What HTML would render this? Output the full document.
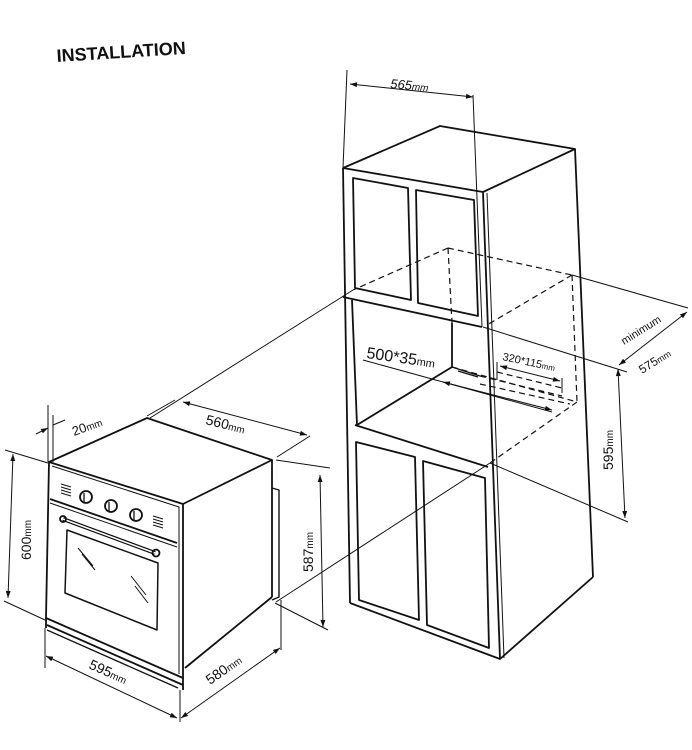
<!DOCTYPE html>
<html><head><meta charset="utf-8"><style>
html,body{margin:0;padding:0;background:#fff;width:692px;height:750px;overflow:hidden}
svg text{font-family:"Liberation Sans",sans-serif;fill:#111}
</style></head><body>
<svg width="692" height="750" viewBox="0 0 692 750" xmlns="http://www.w3.org/2000/svg">
<defs>
<marker id="a" viewBox="0 0 10 10" refX="10" refY="5" markerWidth="9" markerHeight="7" orient="auto-start-reverse" markerUnits="userSpaceOnUse"><path d="M0,1.5 L10,5 L0,8.5 z" fill="#111"/></marker>
</defs>
<text x="57" y="62" font-size="18" font-weight="bold" transform="rotate(-3.6 57 62)">INSTALLATION</text>

<g fill="none" stroke="#111" stroke-width="1.8" stroke-linejoin="round">
<polyline points="343,168 440,126 575,149 483,192 343,168"/>
<line x1="343" y1="168" x2="350" y2="603"/>
<line x1="483" y1="192" x2="500" y2="659"/>
<line x1="487" y1="193" x2="504" y2="658" stroke-width="1"/>
<line x1="575" y1="149" x2="593" y2="577"/>
<polyline points="350,603 500,659 593,577"/>
<polygon points="353,178 408,188 411,300 355,288"/>
<polygon points="416,190 474,200 478,316 418,303"/>
<line x1="343" y1="297" x2="482" y2="327"/>
<line x1="352" y1="300" x2="357" y2="425"/>
<line x1="355" y1="425" x2="488" y2="467"/>
<line x1="452" y1="323" x2="452" y2="367"/>
<line x1="357" y1="425" x2="452" y2="367"/>
<polyline points="452,367 458,369 480,376" stroke-width="1.2"/>
<line x1="458" y1="371" x2="478" y2="377" stroke-width="1.2"/>
<polygon points="356,442 415,457 419,620 359,600"/>
<polygon points="423,461 485,478 489,648 427,625"/>
</g>
<g fill="none" stroke="#111" stroke-width="1.2" stroke-dasharray="6,4">
<line x1="448" y1="248" x2="353" y2="290"/>
<line x1="448" y1="248" x2="572" y2="275"/>
<line x1="448" y1="248" x2="452" y2="323"/>
<line x1="572" y1="275" x2="487" y2="325"/>
<line x1="572" y1="275" x2="577" y2="402"/>
<line x1="577" y1="402" x2="490" y2="463"/>
<line x1="452" y1="367" x2="577" y2="402"/>
<line x1="480" y1="376" x2="562" y2="396"/>
<line x1="480" y1="384" x2="570" y2="404"/>
<line x1="497" y1="372" x2="562" y2="388"/>
</g>
<g fill="none" stroke="#111" stroke-width="1">
<line x1="150" y1="418" x2="353" y2="290"/>
<line x1="276" y1="602" x2="490" y2="463"/>
<line x1="490" y1="463" x2="628" y2="522"/>
<line x1="483" y1="327" x2="627" y2="372"/>
<line x1="572" y1="275" x2="688" y2="308"/>
<line x1="347" y1="70" x2="343" y2="168"/>
<line x1="473" y1="95" x2="482" y2="327"/>
<line x1="350" y1="84" x2="473" y2="97" marker-start="url(#a)" marker-end="url(#a)"/>
<line x1="687" y1="312" x2="619" y2="365" marker-start="url(#a)" marker-end="url(#a)"/>
<line x1="618" y1="369" x2="625" y2="518" marker-start="url(#a)" marker-end="url(#a)"/>
<line x1="363" y1="360" x2="552" y2="412"/>
<line x1="443" y1="382" x2="552" y2="410" marker-start="url(#a)" marker-end="url(#a)"/>
<line x1="497" y1="362" x2="497" y2="380"/>
<line x1="562" y1="378" x2="562" y2="393"/>
<line x1="500" y1="366" x2="560" y2="381" marker-start="url(#a)" marker-end="url(#a)"/>
</g>
<text x="390" y="88" font-size="13" font-family="Liberation Serif" font-style="italic" transform="rotate(5 390 88)">565<tspan font-size="10">mm</tspan></text>
<text x="366" y="358" font-size="16" transform="rotate(8 366 358)">500*35<tspan font-size="11">mm</tspan></text>
<text x="502" y="360" font-size="11" transform="rotate(12 502 360)">320*115<tspan font-size="8">mm</tspan></text>
<text x="624" y="345" font-size="11" font-family="Liberation Mono" transform="rotate(-32 624 345)">minimum</text>
<text x="642" y="374" font-size="12" font-family="Liberation Serif" transform="rotate(-32 642 374)">575<tspan font-size="9">mm</tspan></text>
<text x="613" y="470" font-size="14" transform="rotate(-90 613 470)">595<tspan font-size="10">mm</tspan></text>

<g fill="none" stroke="#111" stroke-width="1.8" stroke-linejoin="round">
<polyline points="49,462 147,418 272,460 183,504"/>
<polygon points="49,462 183,504 183,678 46,618"/>
<polyline points="52,466 179,507 179,674" stroke-width="1"/>
<line x1="272" y1="460" x2="272" y2="597"/>
<line x1="272" y1="597" x2="185" y2="668"/>
<polyline points="272,488 279,490 279,597 272,600" stroke-width="1.4"/>
<line x1="50" y1="499" x2="177" y2="543"/>
<line x1="50" y1="503" x2="177" y2="547" stroke-width="1"/>
<polygon points="67,530 158,563 157,630 65,593" stroke-width="1.5"/>
<line x1="47" y1="625" x2="183" y2="685"/>
<line x1="47" y1="630" x2="178" y2="688" stroke-width="1.3"/>
<line x1="183" y1="678" x2="183" y2="690"/>
<line x1="46" y1="618" x2="46" y2="628"/>
<path d="M63,519 L155,553" stroke-width="4"/>
<path d="M63,519 L155,553" stroke="#fff" stroke-width="1.5"/>
<circle cx="63" cy="519" r="3"/><circle cx="156" cy="553" r="3.5"/>
<circle cx="86" cy="497" r="6"/><circle cx="111" cy="506" r="6"/><circle cx="136" cy="515" r="6"/>
<line x1="84" y1="493" x2="84" y2="502" stroke-width="1.3"/><line x1="109" y1="502" x2="109" y2="511" stroke-width="1.3"/><line x1="134" y1="511" x2="134" y2="520" stroke-width="1.3"/>
</g>
<g stroke="#111" stroke-width="1">
<line x1="61" y1="484" x2="71" y2="487"/><line x1="61" y1="487" x2="71" y2="490"/><line x1="61" y1="490" x2="71" y2="493"/><line x1="61" y1="493" x2="71" y2="496"/>
<line x1="153" y1="516" x2="163" y2="519"/><line x1="153" y1="519" x2="163" y2="522"/><line x1="153" y1="522" x2="163" y2="525"/><line x1="153" y1="525" x2="163" y2="528"/>
<line x1="78" y1="548" x2="93" y2="566"/><line x1="82" y1="554" x2="95" y2="570"/>
<line x1="131" y1="576" x2="146" y2="595"/><line x1="135" y1="586" x2="148" y2="603"/>
</g>
<g fill="none" stroke="#111" stroke-width="1">
<line x1="5" y1="450" x2="48" y2="463"/>
<line x1="4" y1="601" x2="45" y2="620"/>
<line x1="13" y1="454" x2="8" y2="598" marker-start="url(#a)" marker-end="url(#a)"/>
<line x1="45" y1="628" x2="45" y2="668"/>
<line x1="180" y1="690" x2="180" y2="722"/>
<line x1="46" y1="656" x2="177" y2="718" marker-start="url(#a)" marker-end="url(#a)"/>
<line x1="281" y1="600" x2="281" y2="650"/>
<line x1="181" y1="718" x2="280" y2="648" marker-start="url(#a)" marker-end="url(#a)"/>
<line x1="276" y1="460" x2="330" y2="468"/>
<line x1="275" y1="603" x2="328" y2="630"/>
<line x1="320" y1="475" x2="323" y2="627" marker-start="url(#a)" marker-end="url(#a)"/>
<line x1="147" y1="416" x2="175" y2="400"/>
<line x1="277" y1="457" x2="310" y2="436"/>
<line x1="183" y1="402" x2="307" y2="435" marker-start="url(#a)" marker-end="url(#a)"/>
<line x1="48" y1="405" x2="48" y2="462"/>
<line x1="53" y1="415" x2="53" y2="462"/>
<line x1="36" y1="434" x2="48" y2="428" marker-end="url(#a)"/>
<line x1="53" y1="425" x2="65" y2="420"/>
</g>
<text x="74" y="436" font-size="13" font-family="Liberation Serif" transform="rotate(-20 74 436)">20<tspan font-size="10">mm</tspan></text>
<text x="205" y="424" font-size="14" transform="rotate(14 205 424)">560<tspan font-size="10">mm</tspan></text>
<text x="31" y="560" font-size="14" transform="rotate(-90 31 560)">600<tspan font-size="10">mm</tspan></text>
<text x="313" y="572" font-size="14" transform="rotate(-90 313 572)">587<tspan font-size="10">mm</tspan></text>
<text x="88" y="668" font-size="14" transform="rotate(24 88 668)">595<tspan font-size="10">mm</tspan></text>
<text x="210" y="685" font-size="14" transform="rotate(-35 210 685)">580<tspan font-size="10">mm</tspan></text>
</svg>
</body></html>
